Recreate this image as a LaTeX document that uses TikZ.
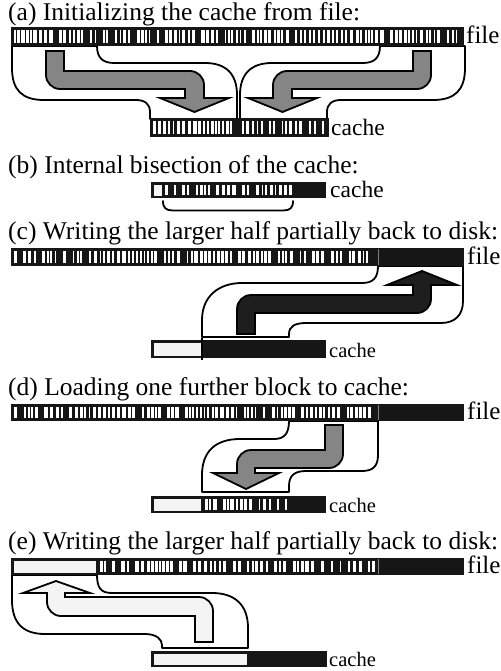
\documentclass[tikz,border=0pt]{standalone}
\usepackage{fontspec}
\setmainfont{Liberation Serif}
\definecolor{barblack}{HTML}{161616}
\definecolor{barlight}{HTML}{F4F4F4}
\definecolor{arrowgray}{HTML}{858585}
\definecolor{arrowdark}{HTML}{1E1E1E}
\tikzset{
  outl/.style={fill=white, draw=black, line width=1.8pt, line join=round},
  garrow/.style={fill=arrowgray, draw=black, line width=1.8pt, line join=miter},
  karrow/.style={fill=arrowdark, draw=black, line width=1.8pt, line join=miter},
  larrow/.style={fill=barlight, draw=black, line width=1.8pt, line join=miter},
  stripe/.style={fill=white},
  ttl/.style={anchor=base west, inner sep=0pt, font=\fontsize{25.5}{30}\selectfont},
  flabel/.style={anchor=base west, inner sep=0pt, font=\fontsize{25}{29}\selectfont},
  clabel/.style={anchor=base west, inner sep=0pt, font=\fontsize{23.5}{27}\selectfont},
  clabelsm/.style={anchor=base west, inner sep=0pt, font=\fontsize{20.5}{24}\selectfont},
  bracket/.style={draw=black, line width=1.8pt, line cap=round},
}
% white stripes of a barcode-like block: left, right, top, bottom
\newcommand\barstripes[4]{%
  \pgfmathsetmacro\bcx{#1}%
  \loop
    \pgfmathrandominteger{\bw}{1}{3}%
    \pgfmathrandominteger{\bg}{1}{10}%
    \pgfmathsetmacro\bce{\bcx+\bw*0.7+1.1}%
    \ifdim\bce pt<#2pt
      \fill[stripe] (\bcx,#3) rectangle (\bce,#4);
    \fi
    \pgfmathsetmacro\bcx{\bce+ifthenelse(\bg>8,6.5,ifthenelse(\bg>5,2.6,1.5))}%
  \ifdim\bcx pt<#2pt
  \repeat}
% left lobe of the loading funnel and its arrow (mirrored for the right one)
\newcommand\lobeA{%
  \draw[outl] (12,46) -- (12,68) .. controls (12,90) and (22,100) .. (44,100)
    -- (136,100) .. controls (145,100) and (150,104) .. (150,112) -- (150,119)
    -- (237,119) -- (237,95) .. controls (237,74) and (226,63) .. (205,63)
    -- (114,63) .. controls (103,63) and (97,58) .. (97,46) -- cycle;}
\newcommand\arrowA{%
  \draw[garrow] (46,51) -- (64,51) -- (64,71) -- (190,71)
    .. controls (197.7,71) and (204,77.3) .. (204,85) -- (204,98) -- (229,98)
    -- (194.5,112) -- (160,98) -- (185,98) -- (185,89) -- (60,89)
    .. controls (52.3,89) and (46,82.7) .. (46,75) -- cycle;}
\begin{document}
\begin{tikzpicture}[x=1pt,y=-1pt]
\useasboundingbox (0,0) rectangle (500,671);
\pgfmathsetseed{4711}

% ---------- (a) initializing ----------
\node[ttl] (ta) at (8,20.5) {(a) Initializing the cache from file:};
\lobeA
\begin{scope}[shift={(477,0)},xscale=-1]
  \lobeA
\end{scope}
\fill[barblack] (11,27) rectangle (464,46);
\barstripes{14}{461}{30}{43}
\fill[barblack] (150,118) rectangle (329,137);
\barstripes{153}{236}{121}{134}
\barstripes{242}{326}{121}{134}
\arrowA
\begin{scope}[shift={(477,0)},xscale=-1]
  \arrowA
\end{scope}
\node[flabel] (fa) at (466,44) {file};
\node[clabel] (ca) at (331,136) {cache};

% ---------- (b) bisection ----------
\node[ttl] (tb) at (8,173) {(b) Internal bisection of the cache:};
\fill[barblack] (151,182) rectangle (326,198);
\fill[barlight] (153.5,184.5) rectangle (162,195.5);
\barstripes{165}{295}{185}{195}
\draw[bracket] (163,201) .. controls (163,208) and (166,210.5) .. (173,210.5)
  -- (283,210.5) .. controls (290,210.5) and (293,208) .. (293,201);
\node[clabel] (cb) at (330,197) {cache};

% ---------- (c) writing back ----------
\node[ttl] (tc) at (8,239) {(c) Writing the larger half partially back to disk:};
\draw[outl] (378,266) .. controls (378,278) and (373,283) .. (362,283)
  -- (242,283) .. controls (218,283) and (202,297) .. (202,320) -- (202,337)
  -- (289,337) -- (289,334) .. controls (289,326) and (295,323) .. (307,323)
  -- (441,323) .. controls (455,323) and (463,315) .. (463,301) -- (463,266) -- cycle;
\fill[barblack] (11,248) rectangle (464,266);
\barstripes{14}{375}{251}{263}
\draw[gray, line width=0.6pt] (378,249) -- (378,265);
\fill[barblack] (151,340) rectangle (326,358);
\fill[barlight] (153.5,342.5) rectangle (201,355.5);
\draw[black, line width=1.6pt] (202,338) -- (202,360);
\draw[karrow] (237,334) -- (255,334) -- (255,313) -- (417,313)
  .. controls (424.7,313) and (431,306.7) .. (431,299) -- (431,285) -- (457,285)
  -- (422,271) -- (387,285) -- (413,285) -- (413,295) -- (251,295)
  .. controls (243.3,295) and (237,301.3) .. (237,309) -- cycle;
\node[flabel] (fc) at (467,264) {file};
\node[clabelsm] (cc) at (329,357) {cache};

% ---------- (d) loading one block ----------
\node[ttl] (td) at (8,395) {(d) Loading one further block to cache:};
\draw[outl] (289,421) .. controls (289,434) and (284,439) .. (274,439)
  -- (240,439) .. controls (215,439) and (202,452) .. (202,475) -- (202,492)
  -- (289,492) -- (289,486) .. controls (289,476) and (294,471) .. (306,471)
  -- (362,471) .. controls (373,471) and (378,466) .. (378,455) -- (378,421) -- cycle;
\fill[barblack] (11,404) rectangle (464,421);
\barstripes{14}{375}{407}{418}
\draw[gray, line width=0.6pt] (378,405) -- (378,420);
\fill[barblack] (151,496) rectangle (326,513);
\fill[barlight] (153.5,498.5) rectangle (201,510.5);
\barstripes{205}{289}{499}{510}
\draw[garrow] (325,425) -- (343,425) -- (343,454)
  .. controls (343,461.7) and (336.7,468) .. (329,468) -- (255,468) -- (255,473)
  -- (279,473) -- (246,489) -- (213,473) -- (237,473) -- (237,464)
  .. controls (237,456.3) and (243.3,450) .. (251,450) -- (325,450) -- cycle;
\node[flabel] (fd) at (467,419) {file};
\node[clabelsm] (cd) at (329,512) {cache};

% ---------- (e) writing back ----------
\node[ttl] (te) at (8,549) {(e) Writing the larger half partially back to disk:};
\draw[outl] (12,575) -- (12,600) .. controls (12,622) and (22,634) .. (45,634)
  -- (145,634) .. controls (156,634) and (162,639) .. (162,645) -- (162,648)
  -- (248,648) -- (248,628) .. controls (248,605) and (235,593) .. (212,593)
  -- (112,593) .. controls (101,593) and (97,588) .. (97,575) -- cycle;
\fill[barblack] (11,558) rectangle (464,575);
\fill[barlight] (13.5,560.5) rectangle (96,572.5);
\barstripes{100}{375}{561}{572}
\draw[gray, line width=0.6pt] (378,559) -- (378,574);
\fill[barblack] (151,651) rectangle (327,667);
\fill[barlight] (153.5,653.5) rectangle (247,664.5);
\draw[larrow] (195,642) -- (213,642) -- (213,611)
  .. controls (213,603.3) and (206.7,597) .. (199,597) -- (65,597) -- (65,593)
  -- (90,593) -- (56,581) -- (23,593) -- (47,593) -- (47,602)
  .. controls (47,609.7) and (53.3,616) .. (61,616) -- (195,616) -- cycle;
\node[flabel] (fe) at (467,573) {file};
\node[clabelsm] (ce) at (329,666) {cache};
\end{tikzpicture}
\end{document}
